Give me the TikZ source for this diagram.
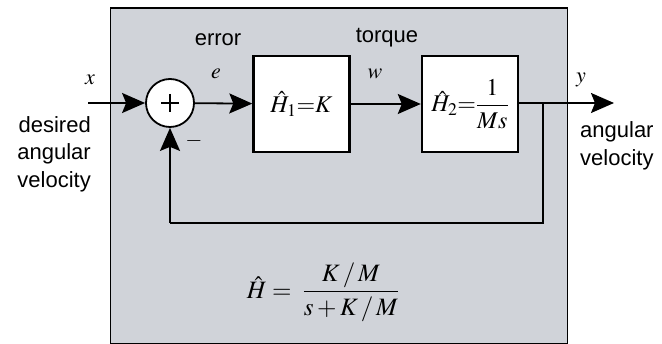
\documentclass[tikz,border=0pt]{standalone}
\usepackage{mathptmx}
\usepackage[no-math]{fontspec}
\setmainfont{Liberation Sans}
\usetikzlibrary{arrows.meta}
\definecolor{panelgray}{RGB}{208,211,217}
\begin{document}
\begin{tikzpicture}[x=1pt,y=-1pt,
  sig/.style={line width=1.8pt,-{Stealth[length=23pt,width=20pt,inset=4pt]}},
  wire/.style={line width=1.8pt},
  blockbox/.style={draw,line width=2.4pt,fill=white,minimum width=96pt,minimum height=96pt,inner sep=0pt},
  sumnode/.style={circle,draw,line width=1.8pt,fill=white,minimum size=48pt,inner sep=0pt},
  lbl/.style={font=\fontsize{22}{27.5}\selectfont,inner sep=0pt},
  mlbl/.style={font=\fontsize{22}{26}\selectfont,inner sep=0pt},
  blk/.style={font=\fontsize{24}{28}\selectfont}]
\useasboundingbox (0,0) rectangle (662,344);
\node[draw,line width=1.4pt,fill=panelgray,minimum width=457pt,minimum height=336pt,inner sep=0pt,anchor=north west] (panel) at (110,7.5) {};
\node[sumnode] (sum) at (170,103) {};
\draw[line width=1.5pt] (sum.center) ++(-9,0) -- ++(18,0);
\draw[line width=1.5pt] (sum.center) ++(0,-9) -- ++(0,18);
\node[blockbox,blk] (h1) at (301.5,104) {$\hat{H}_1{=}K$};
\node[blockbox,blk] (h2) at (470,104) {$\displaystyle\hat{H}_2{=}\frac{1}{Ms}$};
\coordinate (in) at (88,103);
\coordinate (out) at (614,103);
\coordinate (br) at (543,103);
\coordinate (c1) at (543,223);
\coordinate (c2) at (170,223);
\draw[sig] (in) -- (sum);
\draw[sig] (sum) -- (h1);
\draw[sig] (h1) -- (h2);
\draw[sig] (h2.east |- out) -- (out);
\draw[wire] (br) -- (c1) -- (c2);
\draw[sig] (c2) -- (sum);
\node[lbl] (errl) at (218,40) {error};
\node[lbl] (torl) at (387,38) {torque};
\node[mlbl] (xl) at (90,80) {$x$};
\node[mlbl] (el) at (216,74) {$e$};
\node[mlbl] (wl) at (375,74) {$w$};
\node[mlbl] (yl) at (581,80) {$y$};
\node[mlbl] (minus) at (194,141) {$-$};
\node[lbl,align=right,anchor=east] (inl) at (91,154) {desired\\angular\\velocity};
\node[lbl,align=left,anchor=west] (outl) at (580,146) {angular\\velocity};
\node[font=\fontsize{25}{29}\selectfont] (formula) at (323,292) {$\displaystyle \hat{H} = \;\frac{K\,/\,M}{s+K\,/\,M}$};
\end{tikzpicture}
\end{document}
